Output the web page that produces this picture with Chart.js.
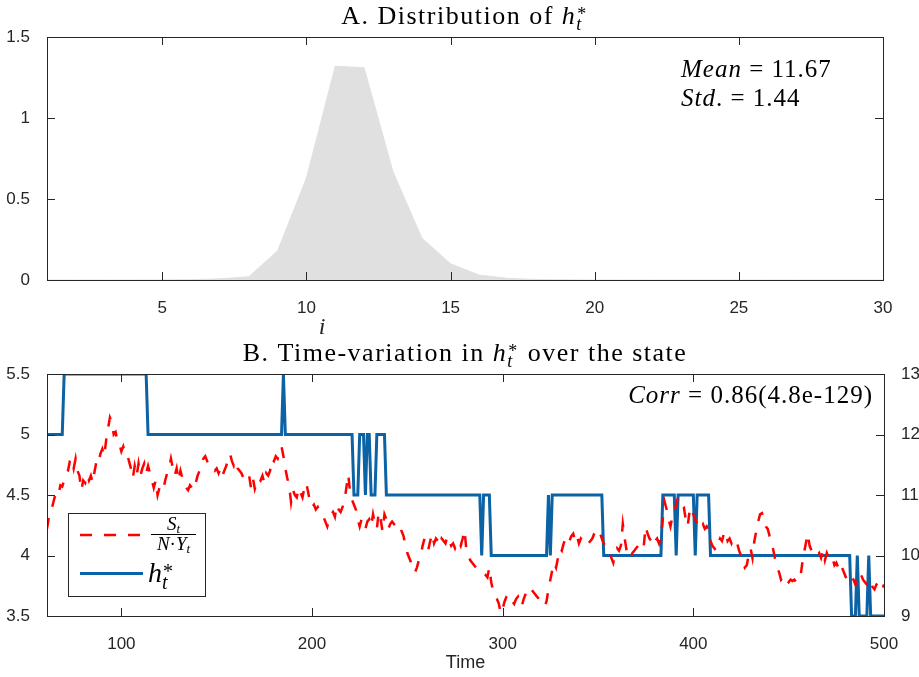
<!DOCTYPE html>
<html><head><meta charset="utf-8">
<script src="https://cdn.jsdelivr.net/npm/chart.js@4.4.0/dist/chart.umd.min.js"></script>
<style>
html,body{margin:0;padding:0;background:#fff;width:919px;height:677px;overflow:hidden}
#c1{position:absolute;left:0;top:0}
#c2{position:absolute;left:0;top:340px}
</style></head><body>
<canvas id="c1" width="919" height="340"></canvas>
<canvas id="c2" width="919" height="337"></canvas>
<script>
// ---------- data ----------
const distI = [1,2,3,4,5,6,7,8,9,10,11,12,13,14,15,16,17,18,19,20,21,22,23,24,25,26,27,28,29,30];
const distDensity = [0,0,0,0,0.0005,0.002,0.007,0.02,0.18,0.63,1.32,1.31,0.67,0.26,0.10,0.03,0.01,0.003,0.001,0,0,0,0,0,0,0,0,0,0,0];
const distXTicks = [5,10,15,20,25,30];

const timeStart = 61;
const ratio = [
4.22,4.32,4.35,4.42,4.48,4.52,4.50,4.58,4.57,4.62,
4.66,4.70,4.78,4.80,4.72,4.80,4.70,4.66,4.54,4.62,
4.60,4.67,4.62,4.66,4.60,4.70,4.78,4.76,4.84,4.88,
4.82,4.95,5.05,5.14,5.10,5.00,5.02,4.94,4.92,4.86,
4.90,4.84,4.84,4.78,4.72,4.64,4.74,4.66,4.76,4.66,
4.72,4.76,4.68,4.74,4.68,4.62,4.56,4.62,4.50,4.56,
4.58,4.55,4.62,4.68,4.72,4.80,4.72,4.66,4.72,4.62,
4.70,4.64,4.58,4.56,4.54,4.58,4.56,4.62,4.60,4.66,
4.70,4.76,4.80,4.82,4.78,4.73,4.72,4.72,4.70,4.72,
4.68,4.72,4.66,4.70,4.74,4.80,4.84,4.78,4.74,4.78,
4.72,4.70,4.68,4.64,4.62,4.62,4.66,4.56,4.64,4.55,
4.60,4.64,4.62,4.66,4.60,4.68,4.66,4.70,4.80,4.78,
4.82,4.80,4.84,4.90,4.82,4.72,4.64,4.58,4.44,4.54,
4.50,4.48,4.56,4.52,4.48,4.56,4.60,4.52,4.44,4.40,
4.42,4.38,4.40,4.36,4.34,4.32,4.28,4.24,4.30,4.34,
4.36,4.32,4.42,4.38,4.36,4.40,4.44,4.56,4.67,4.52,
4.46,4.42,4.38,4.30,4.24,4.30,4.26,4.22,4.28,4.30,
4.24,4.34,4.26,4.22,4.36,4.30,4.20,4.34,4.30,4.22,
4.26,4.28,4.26,4.28,4.25,4.24,4.20,4.16,4.08,4.02,
3.98,3.94,3.88,3.86,3.90,3.96,4.00,4.08,4.14,4.10,
4.05,4.12,4.18,4.10,4.14,4.12,4.08,4.14,4.12,4.10,
4.16,4.12,4.08,4.10,4.06,4.10,4.12,4.08,4.14,4.21,
4.04,4.00,3.96,3.94,3.92,3.90,3.88,3.88,3.86,3.85,
3.84,3.82,3.90,3.78,3.70,3.66,3.64,3.60,3.52,3.56,
3.62,3.66,3.68,3.64,3.62,3.60,3.64,3.66,3.60,3.58,
3.64,3.68,3.72,3.74,3.72,3.70,3.68,3.66,3.64,3.62,
3.60,3.58,3.62,3.72,3.80,3.88,3.94,3.90,3.98,4.06,
4.04,4.10,4.14,4.16,4.12,4.16,4.18,4.12,4.16,4.10,
4.14,4.12,4.10,4.08,4.10,4.12,4.14,4.18,4.20,4.17,
4.19,4.14,4.10,4.08,4.06,4.04,3.98,3.94,4.02,4.06,
4.04,4.08,4.26,4.14,4.04,4.00,3.98,4.02,4.04,4.06,
4.08,4.06,4.10,4.08,4.24,4.18,4.14,4.12,4.16,4.12,
4.14,4.10,4.16,4.30,4.44,4.38,4.30,4.24,4.32,4.36,
4.42,4.48,4.46,4.42,4.40,4.30,4.24,4.36,4.40,4.34,
4.30,4.26,4.28,4.24,4.26,4.22,4.24,4.20,4.12,4.08,
4.06,4.04,4.10,4.14,4.12,4.18,4.20,4.12,4.14,4.10,
4.14,4.12,4.10,4.04,4.00,3.96,3.90,3.92,4.00,4.06,
3.98,4.12,4.20,4.28,4.34,4.35,4.30,4.24,4.22,4.16,
4.12,4.04,3.96,3.90,3.86,3.80,3.82,3.78,3.80,3.78,
3.80,3.79,3.80,3.78,3.79,3.80,3.92,4.02,4.10,4.18,
4.08,4.04,4.02,4.03,4.00,4.02,3.98,4.04,3.96,4.02,
3.98,3.96,3.98,3.92,3.94,3.90,3.94,3.90,3.86,3.82,
3.80,3.78,3.82,3.80,3.76,3.82,3.86,3.84,3.80,3.78,
3.76,3.80,3.78,3.74,3.72,3.76,3.78,3.74,3.72,3.76
];
const hTimes  = [61,69,70,113,114,184,185,186,221,222,224,225,227,228,229,230,231,233,234,238,239,288,289,290,293,294,323,324,325,326,352,353,383,384,390,391,392,400,401,402,408,409,482,483,485,486,487,491,492,493,500];
const hValues = [12,12,13,13,12,12,13,12,12,11,11,12,12,11,12,12,11,11,12,12,11,11,10,11,11,10,10,11,10,11,11,10,10,11,11,10,11,11,10,11,11,10,10,9,9,10,9,9,10,9,9];
const timeTicks = [100,200,300,400,500];

// ---------- styling ----------
const AXIS = '#262626';
const SERIF = '"Liberation Serif", "Times New Roman", serif';
const SANS = '"Liberation Sans", Arial, sans-serif';
const RED = '#ff0000';
const BLUE = '#0b62a4';
const GRAY = '#e0e0e0';

Chart.defaults.font.family = SANS;
Chart.defaults.color = AXIS;
Chart.defaults.animation = false;

const plainNum = v => String(Math.round(v * 100) / 100);

function f(style, size) { return `${style} ${size}px ${SERIF}`; }
function script(sup, sub, size) {
  return {script: true, sup, sub, supFont: f('normal', Math.round(size*0.7)), subFont: f('italic', Math.round(size*0.7)),
          supDy: -size*0.12, subDy: size*0.25, pad: 2};
}
function drawRich(ctx, segs, x, y, align, spacing, color) {
  ctx.save();
  if ('letterSpacing' in ctx) ctx.letterSpacing = (spacing || 0) + 'px';
  ctx.fillStyle = color || '#000';
  ctx.textAlign = 'left'; ctx.textBaseline = 'alphabetic';
  const w = segs.map(s => {
    if (s.script) {
      ctx.font = s.supFont; const a = ctx.measureText(s.sup).width;
      ctx.font = s.subFont; const b = ctx.measureText(s.sub).width;
      return Math.max(a, b) + (s.pad || 0);
    }
    ctx.font = s.font; return ctx.measureText(s.text).width;
  });
  const total = w.reduce((p, q) => p + q, 0);
  let cx = align === 'center' ? x - total / 2 : align === 'right' ? x - total : x;
  segs.forEach((s, i) => {
    if (s.script) {
      ctx.font = s.supFont; ctx.fillText(s.sup, cx + 1, y + s.supDy);
      ctx.font = s.subFont; ctx.fillText(s.sub, cx, y + s.subDy);
    } else {
      ctx.font = s.font; ctx.fillText(s.text, cx, y + (s.dy || 0));
    }
    cx += w[i];
  });
  ctx.restore();
  return total;
}

const framePlugin = {
  id: 'frame',
  afterDatasetsDraw(chart) {
    const {ctx, chartArea: a, scales} = chart;
    const L = 8;
    ctx.save();
    ctx.strokeStyle = AXIS; ctx.lineWidth = 1;
    ctx.beginPath();
    const xs = scales.x;
    xs.ticks.forEach(t => {
      const p = Math.round(xs.getPixelForValue(t.value)) + 0.5;
      ctx.moveTo(p, a.bottom); ctx.lineTo(p, a.bottom - L);
      ctx.moveTo(p, a.top); ctx.lineTo(p, a.top + L);
    });
    const yl = scales.y, yr = scales.y2 || scales.y;
    yl.ticks.forEach(t => {
      const p = Math.round(yl.getPixelForValue(t.value)) + 0.5;
      ctx.moveTo(a.left, p); ctx.lineTo(a.left + L, p);
    });
    yr.ticks.forEach(t => {
      const p = Math.round(yr.getPixelForValue(t.value)) + 0.5;
      ctx.moveTo(a.right, p); ctx.lineTo(a.right - L, p);
    });
    ctx.stroke();
    ctx.strokeRect(Math.round(a.left) + 0.5, Math.round(a.top) + 0.5, Math.round(a.right - a.left), Math.round(a.bottom - a.top));
    ctx.restore();
  }
};

// ---------- chart A ----------
const textA = {
  id: 'textA',
  afterDraw(chart) {
    const ctx = chart.ctx;
    drawRich(ctx, [{text: 'A. Distribution of ', font: f('normal', 26)}, {text: 'h', font: f('italic', 26)}, script('*', 't', 26)], 465, 23.5, 'center', 1.5);
    drawRich(ctx, [{text: 'Mean', font: f('italic', 25)}, {text: ' = 11.67', font: f('normal', 25)}], 681, 77, 'left', 1);
    drawRich(ctx, [{text: 'Std', font: f('italic', 25)}, {text: '. = 1.44', font: f('normal', 25)}], 681, 106, 'left', 1);
    drawRich(ctx, [{text: 'i', font: f('italic', 24)}], 322, 334, 'center', 0, AXIS);
  }
};

new Chart(document.getElementById('c1'), {
  type: 'line',
  data: {
    datasets: [{
      data: distI.map((x, k) => ({x, y: distDensity[k]})),
      fill: 'origin', backgroundColor: GRAY, borderColor: GRAY, borderWidth: 1,
      pointRadius: 0, tension: 0
    }]
  },
  options: {
    responsive: false,
    layout: {padding: {top: 37, right: 36, left: 0, bottom: 0}},
    plugins: {legend: {display: false}, tooltip: {enabled: false}},
    scales: {
      x: {
        type: 'linear', min: 1, max: 30,
        afterBuildTicks: s => { s.ticks = distXTicks.map(v => ({value: v})); },
        afterFit: s => { s.height = 60; },
        grid: {display: false}, border: {display: false},
        ticks: {autoSkip: false, maxRotation: 0, padding: 10, font: {size: 17}, color: AXIS, callback: plainNum}
      },
      y: {
        min: 0, max: 1.5,
        afterFit: s => { s.width = 47; },
        grid: {display: false}, border: {display: false},
        ticks: {stepSize: 0.5, padding: 9, font: {size: 17}, color: AXIS, callback: plainNum}
      }
    }
  },
  plugins: [framePlugin, textA]
});

// ---------- chart B ----------
const textB = {
  id: 'textB',
  afterDraw(chart) {
    const ctx = chart.ctx;
    drawRich(ctx, [{text: 'B. Time-variation in ', font: f('normal', 26)}, {text: 'h', font: f('italic', 26)}, script('*', 't', 26), {text: ' over the state', font: f('normal', 26)}], 465, 20.5, 'center', 1.5);
    drawRich(ctx, [{text: 'Corr', font: f('italic', 25)}, {text: ' = 0.86(4.8e-129)', font: f('normal', 25)}], 873, 63, 'right', 1);

    // legend box
    const bx = 68.5, by = 173.5, bw = 137, bh = 83;
    ctx.save();
    ctx.fillStyle = '#fff';
    ctx.fillRect(bx, by, bw, bh);
    ctx.strokeStyle = AXIS; ctx.lineWidth = 1;
    ctx.strokeRect(bx, by, bw, bh);
    // red dashed sample
    ctx.strokeStyle = RED; ctx.lineWidth = 2.5; ctx.setLineDash([12, 12]); ctx.lineCap = 'butt';
    ctx.beginPath(); ctx.moveTo(80, 195); ctx.lineTo(140, 195); ctx.stroke();
    // blue sample
    ctx.setLineDash([]); ctx.strokeStyle = BLUE; ctx.lineWidth = 3;
    ctx.beginPath(); ctx.moveTo(80, 233.5); ctx.lineTo(143, 233.5); ctx.stroke();
    // fraction bar
    ctx.strokeStyle = '#000'; ctx.lineWidth = 1;
    ctx.beginPath(); ctx.moveTo(151, 194.5); ctx.lineTo(196, 194.5); ctx.stroke();
    ctx.restore();
    drawRich(ctx, [{text: 'S', font: f('italic', 19)}, {text: 't', font: f('italic', 13), dy: 3}], 173.5, 190, 'center', 0);
    drawRich(ctx, [{text: 'N', font: f('italic', 19)}, {text: '\u00B7', font: f('normal', 19)}, {text: 'Y', font: f('italic', 19)}, {text: 't', font: f('italic', 13), dy: 3}], 173.5, 210, 'center', 0);
    drawRich(ctx, [{text: 'h', font: f('italic', 28)}, script('*', 't', 28)], 148, 241.5, 'left', 0);
  }
};

new Chart(document.getElementById('c2'), {
  type: 'line',
  data: {
    datasets: [
      {
        label: 'S_t/(N·Y_t)', yAxisID: 'y',
        data: ratio.map((v, k) => ({x: timeStart + k, y: v})),
        borderColor: RED, borderWidth: 2.5, borderDash: [11, 12], pointRadius: 0, tension: 0, fill: false
      },
      {
        label: 'h*_t', yAxisID: 'y2',
        data: hTimes.map((t, k) => ({x: t, y: hValues[k]})),
        borderColor: BLUE, borderWidth: 3, pointRadius: 0, tension: 0, fill: false
      }
    ]
  },
  options: {
    responsive: false,
    layout: {padding: {top: 34, right: 0, left: 0, bottom: 0}},
    plugins: {legend: {display: false}, tooltip: {enabled: false}},
    scales: {
      x: {
        type: 'linear', min: 61, max: 500,
        afterBuildTicks: s => { s.ticks = timeTicks.map(v => ({value: v})); },
        afterFit: s => { s.height = 61; },
        grid: {display: false}, border: {display: false},
        ticks: {autoSkip: false, maxRotation: 0, padding: 10, font: {size: 17}, color: AXIS, callback: plainNum},
        title: {display: true, text: 'Time', font: {size: 18}, color: AXIS, padding: {top: 0, bottom: 3}}
      },
      y: {
        position: 'left', min: 3.5, max: 5.5,
        afterFit: s => { s.width = 47; },
        grid: {display: false}, border: {display: false},
        ticks: {stepSize: 0.5, padding: 9, font: {size: 17}, color: AXIS, callback: plainNum}
      },
      y2: {
        position: 'right', min: 9, max: 13,
        afterFit: s => { s.width = 35; },
        grid: {display: false}, border: {display: false},
        ticks: {stepSize: 1, padding: 9, font: {size: 17}, color: AXIS, callback: plainNum}
      }
    }
  },
  plugins: [framePlugin, textB]
});
</script>
</body></html>
